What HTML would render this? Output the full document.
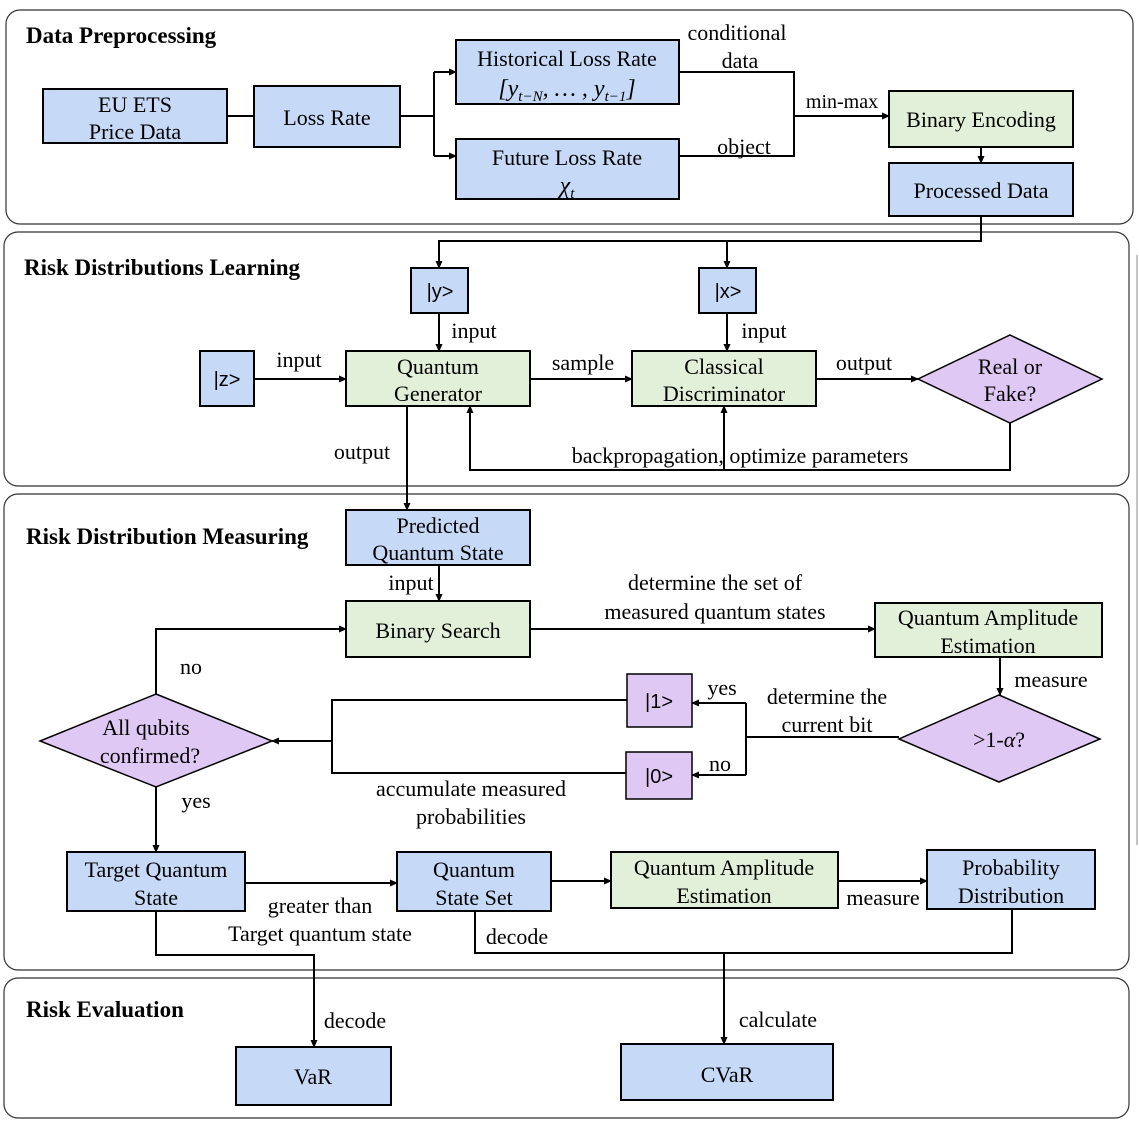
<!DOCTYPE html>
<html><head><meta charset="utf-8"><style>
html,body{margin:0;padding:0;background:#fff;}
svg text{font-family:"Liberation Serif",serif;font-size:22px;fill:#000;}
.b{fill:#c6d9f7;stroke:#000;stroke-width:2;}
.g{fill:#e2efd9;stroke:#000;stroke-width:2;}
.p{fill:#e0c8f4;stroke:#000;stroke-width:1.5;}
.l{fill:none;stroke:#000;stroke-width:2;}
.pn{fill:none;stroke:#333;stroke-width:1.2;}
.t{font-weight:bold;font-size:23px !important;}
.s{font-family:"Liberation Sans",sans-serif !important;font-size:20px !important;}
</style></head><body>
<svg width="1139" height="1131" viewBox="0 0 1139 1131" xmlns="http://www.w3.org/2000/svg">
<defs><marker id="a" markerWidth="8" markerHeight="8" refX="7" refY="4" orient="auto" markerUnits="userSpaceOnUse"><path d="M0,0.5 L8,4 L0,7.5z" fill="#000"/></marker></defs>
<rect class="pn" x="6" y="10" width="1127" height="214" rx="14"/>
<rect class="pn" x="4" y="232" width="1125" height="254" rx="14"/>
<rect class="pn" x="4" y="494" width="1125" height="476" rx="14"/>
<rect class="pn" x="4" y="978" width="1125" height="140" rx="14"/>
<line x1="1137" y1="255" x2="1137" y2="845" stroke="#888" stroke-width="1"/>
<text class="t" x="26" y="43">Data Preprocessing</text>
<text class="t" x="24" y="275">Risk Distributions Learning</text>
<text class="t" x="26" y="544">Risk Distribution Measuring</text>
<text class="t" x="26" y="1017">Risk Evaluation</text>
<g text-anchor="middle">
<!-- panel 1 -->
<rect class="b" x="43" y="89" width="184" height="54"/><text x="135" y="112">EU ETS</text><text x="135" y="139">Price Data</text>
<rect class="b" x="254" y="86" width="146" height="61"/><text x="327" y="125">Loss Rate</text>
<rect class="b" x="456" y="40" width="223" height="64"/><text x="567" y="66">Historical Loss Rate</text><text x="567" y="96" font-style="italic" style="font-size:24px">[y<tspan style="font-size:15px" dy="5">t−N</tspan><tspan dy="-5">, … , y</tspan><tspan style="font-size:15px" dy="5">t−1</tspan><tspan dy="-5">]</tspan></text>
<rect class="b" x="456" y="139" width="223" height="60"/><text x="567" y="165">Future Loss Rate</text><text x="567" y="193" font-style="italic" style="font-size:24px">χ<tspan style="font-size:15px" dy="5">t</tspan></text>
<rect class="g" x="889" y="91" width="184" height="56"/><text x="981" y="127">Binary Encoding</text>
<rect class="b" x="889" y="163" width="184" height="53"/><text x="981" y="198">Processed Data</text>
<path class="l" d="M227,116H254"/>
<path class="l" d="M400,116H434"/>
<path class="l" d="M434,72V156"/>
<path class="l" d="M434,72H456" marker-end="url(#a)"/><path class="l" d="M434,156H456" marker-end="url(#a)"/>
<path class="l" d="M679,72H794V156H679"/>
<path class="l" d="M794,116H889" marker-end="url(#a)"/>
<path class="l" d="M981,147V163" stroke-width="1.5" marker-end="url(#a)"/>
<text x="737" y="40">conditional</text><text x="740" y="68">data</text>
<text x="842" y="108" style="font-size:20px">min-max</text><text x="744" y="154">object</text>
<!-- panel 2 -->
<path class="l" d="M981,216V241H439V268" marker-end="url(#a)"/><path class="l" d="M727,241V268" marker-end="url(#a)"/>
<rect class="b" x="411" y="268" width="57" height="45"/><text class="s" x="440" y="298">|y&gt;</text>
<rect class="b" x="699" y="268" width="57" height="45"/><text class="s" x="728" y="298">|x&gt;</text>
<rect class="b" x="200" y="351" width="54" height="55"/><text class="s" x="227" y="386">|z&gt;</text>
<rect class="g" x="346" y="351" width="184" height="55"/><text x="438" y="374">Quantum</text><text x="438" y="401">Generator</text>
<rect class="g" x="632" y="351" width="184" height="55"/><text x="724" y="374">Classical</text><text x="724" y="401">Discriminator</text>
<polygon class="p" points="1010,335 1102,379 1010,423 918,379"/><text x="1010" y="374">Real or</text><text x="1010" y="401">Fake?</text>
<path class="l" d="M439,313V351" marker-end="url(#a)"/><text x="474" y="338">input</text>
<path class="l" d="M727,313V351" marker-end="url(#a)"/><text x="764" y="338">input</text>
<path class="l" d="M254,379H346" marker-end="url(#a)"/><text x="299" y="367">input</text>
<path class="l" d="M530,379H632" marker-end="url(#a)"/><text x="583" y="370">sample</text>
<path class="l" d="M816,379H918" marker-end="url(#a)"/><text x="864" y="370">output</text>
<path class="l" d="M1010,423V470H470V406" marker-end="url(#a)"/><path class="l" d="M724,470V406" marker-end="url(#a)"/>
<text x="740" y="463">backpropagation, optimize parameters</text>
<path class="l" d="M407,406V510" marker-end="url(#a)"/><text x="362" y="459">output</text>
<!-- panel 3 -->
<rect class="b" x="346" y="510" width="184" height="55"/><text x="438" y="533">Predicted</text><text x="438" y="560">Quantum State</text>
<rect class="g" x="346" y="601" width="184" height="56"/><text x="438" y="638">Binary Search</text>
<path class="l" d="M439,565V601" stroke-width="1.5" marker-end="url(#a)"/><text x="411" y="590">input</text>
<rect class="g" x="875" y="603" width="227" height="54"/><text x="988" y="625">Quantum Amplitude</text><text x="988" y="653">Estimation</text>
<path class="l" d="M530,629H875" marker-end="url(#a)"/>
<text x="715" y="590">determine the set of</text><text x="715" y="619">measured quantum states</text>
<path class="l" d="M1000,657V695" marker-end="url(#a)"/><text x="1051" y="687">measure</text>
<polygon class="p" points="999,695 1100,739 999,782 899,739"/><text x="999" y="747">&gt;1-<tspan font-style="italic">α</tspan>?</text>
<path class="l" d="M899,737H746"/><path class="l" d="M746,703V775"/>
<path class="l" d="M746,703H692" marker-end="url(#a)"/><path class="l" d="M746,775H692" marker-end="url(#a)"/>
<rect class="p" x="627" y="674" width="65" height="53"/><text class="s" x="659" y="708">|1&gt;</text>
<rect class="p" x="626" y="752" width="66" height="47"/><text class="s" x="659" y="783">|0&gt;</text>
<text x="722" y="695">yes</text><text x="720" y="771">no</text>
<text x="827" y="704">determine the</text><text x="827" y="732">current bit</text>
<path class="l" d="M627,700H332V773H626"/><path class="l" d="M332,741H272" marker-end="url(#a)"/>
<polygon class="p" points="156,694 272,741 156,787 40,741"/><text x="146" y="735">All qubits</text><text x="150" y="763">confirmed?</text>
<path class="l" d="M156,694V629H346" marker-end="url(#a)"/><text x="191" y="674">no</text>
<path class="l" d="M156,787V852" marker-end="url(#a)"/><text x="196" y="808">yes</text>
<text x="471" y="796">accumulate measured</text><text x="471" y="824">probabilities</text>
<rect class="b" x="67" y="852" width="178" height="59"/><text x="156" y="877">Target Quantum</text><text x="156" y="905">State</text>
<rect class="b" x="397" y="852" width="154" height="59"/><text x="474" y="877">Quantum</text><text x="474" y="905">State  Set</text>
<rect class="g" x="611" y="852" width="227" height="56"/><text x="724" y="875">Quantum Amplitude</text><text x="724" y="903">Estimation</text>
<rect class="b" x="927" y="850" width="168" height="59"/><text x="1011" y="875">Probability</text><text x="1011" y="903">Distribution</text>
<path class="l" d="M245,883H397" marker-end="url(#a)"/><text x="320" y="913">greater than</text><text x="320" y="941">Target quantum state</text>
<path class="l" d="M551,881H611" marker-end="url(#a)"/>
<path class="l" d="M838,881H927" marker-end="url(#a)"/><text x="883" y="905">measure</text>
<path class="l" d="M156,911V955H314V1047" marker-end="url(#a)"/><text x="355" y="1028">decode</text>
<path class="l" d="M475,911V953H1012V909"/><path class="l" d="M724,953V1044" marker-end="url(#a)"/>
<text x="517" y="944">decode</text><text x="778" y="1027">calculate</text>
<rect class="b" x="236" y="1047" width="155" height="58"/><text x="313" y="1084">VaR</text>
<rect class="b" x="621" y="1044" width="212" height="56"/><text x="727" y="1082">CVaR</text>
</g>
</svg>
</body></html>
